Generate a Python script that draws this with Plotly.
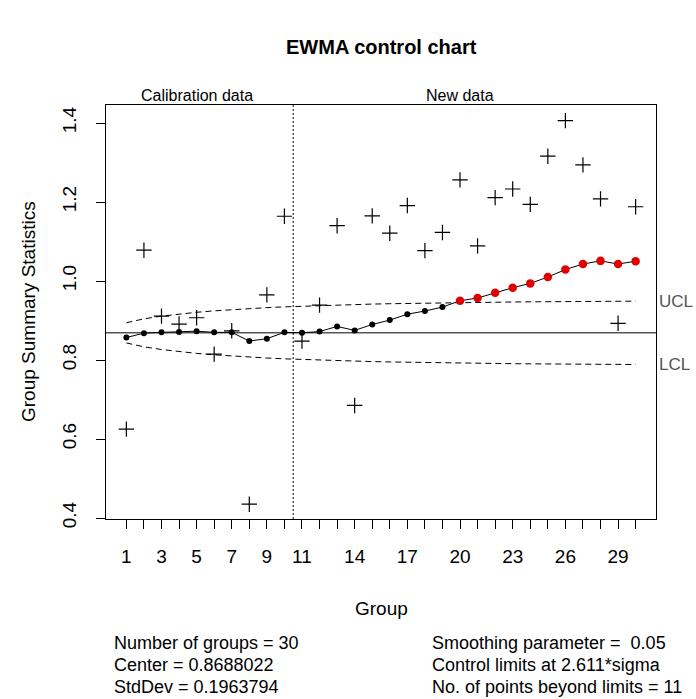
import plotly.graph_objects as go

# ---- data ----
groups = list(range(1, 31))
stats = [0.625, 1.078, 0.911, 0.891, 0.907, 0.815, 0.874, 0.435, 0.965, 1.164,
         0.848, 0.939, 1.140, 0.685, 1.165, 1.121, 1.191, 1.077, 1.123, 1.256,
         1.089, 1.211, 1.233, 1.194, 1.316, 1.406, 1.294, 1.208, 0.893, 1.188]
ewma = [0.857, 0.868, 0.870, 0.871, 0.873, 0.870, 0.870, 0.848, 0.854, 0.870,
        0.869, 0.872, 0.885, 0.875, 0.890, 0.901, 0.916, 0.924, 0.934, 0.950,
        0.957, 0.970, 0.983, 0.994, 1.010, 1.029, 1.043, 1.051, 1.043, 1.050]
ucl = [0.8944, 0.9042, 0.9111, 0.9164, 0.9208, 0.9245, 0.9276, 0.9302, 0.9326, 0.9346,
       0.9363, 0.9379, 0.9393, 0.9405, 0.9416, 0.9425, 0.9434, 0.9442, 0.9448, 0.9455,
       0.9460, 0.9465, 0.9469, 0.9473, 0.9477, 0.9480, 0.9483, 0.9486, 0.9488, 0.9490]
lcl = [0.8432, 0.8334, 0.8265, 0.8212, 0.8168, 0.8131, 0.8100, 0.8074, 0.8051, 0.8030,
       0.8013, 0.7997, 0.7983, 0.7971, 0.7960, 0.7951, 0.7942, 0.7934, 0.7928, 0.7922,
       0.7916, 0.7911, 0.7907, 0.7903, 0.7899, 0.7896, 0.7893, 0.7891, 0.7888, 0.7886]
center = 0.8688022
calib_end = 10.5
x_label_groups = [1, 3, 5, 7, 9, 11, 14, 17, 20, 23, 26, 29]
y_ticks = [0.4, 0.6, 0.8, 1.0, 1.2, 1.4]
y_tick_labels = ["0.4", "0.6", "0.8", "1.0", "1.2", "1.4"]
stats_left = ["Number of groups = 30", "Center = 0.8688022", "StdDev = 0.1963794"]
stats_right = ["Smoothing parameter =  0.05", "Control limits at 2.611*sigma",
               "No. of points beyond limits = 11"]

FONT = "Liberation Sans, Arial, sans-serif"

out_x = [g for g, e, u, l in zip(groups, ewma, ucl, lcl) if e > u or e < l]
out_y = [e for g, e, u, l in zip(groups, ewma, ucl, lcl) if e > u or e < l]
in_x = [g for g, e, u, l in zip(groups, ewma, ucl, lcl) if not (e > u or e < l)]
in_y = [e for g, e, u, l in zip(groups, ewma, ucl, lcl) if not (e > u or e < l)]

fig = go.Figure()
fig.add_trace(go.Scatter(x=groups, y=ucl, mode="lines",
                         line=dict(color="black", width=1, dash="6px,4px")))
fig.add_trace(go.Scatter(x=groups, y=lcl, mode="lines",
                         line=dict(color="black", width=1, dash="6px,4px")))
fig.add_trace(go.Scatter(x=groups, y=stats, mode="markers",
                         marker=dict(symbol="cross-thin", size=11, color="black",
                                     line=dict(color="black", width=1.2))))
fig.add_trace(go.Scatter(x=groups, y=ewma, mode="lines",
                         line=dict(color="black", width=1)))
fig.add_trace(go.Scatter(x=in_x, y=in_y, mode="markers",
                         marker=dict(symbol="circle", size=6, color="black")))
fig.add_trace(go.Scatter(x=out_x, y=out_y, mode="markers",
                         marker=dict(symbol="circle", size=8.5, color="#e00000")))

fig.add_shape(type="line", xref="paper", x0=0, x1=1, yref="y", y0=center, y1=center,
              line=dict(color="black", width=1))
fig.add_shape(type="line", xref="x", x0=calib_end, x1=calib_end, yref="paper", y0=0, y1=1,
              line=dict(color="black", width=1, dash="2px,2px"))

L, R, T, B = 106, 656, 105, 519
W, H = 696, 699


def px(xp):
    return (xp - L) / (R - L)


def py(yp):
    return (B - yp) / (B - T)


ann = []
ann.append(dict(text="<b>EWMA control chart</b>", x=px(381), y=py(47), font=dict(size=20)))
ann.append(dict(text="Calibration data", x=px(197), y=py(96), font=dict(size=16)))
ann.append(dict(text="New data", x=px(460), y=py(96), font=dict(size=16)))
ann.append(dict(text="Group", x=px(381), y=py(608), font=dict(size=19)))
ann.append(dict(text="Group Summary Statistics", x=px(28), y=py(312), textangle=-90,
                font=dict(size=19)))
for i, s in enumerate(stats_left):
    ann.append(dict(text=s, x=px(112), y=py(643 + 22 * i), xanchor="left", font=dict(size=18)))
for i, s in enumerate(stats_right):
    ann.append(dict(text=s, x=px(430), y=py(643 + 22 * i), xanchor="left", font=dict(size=18)))
for a in ann:
    a.setdefault("xanchor", "center")
    a.update(xref="paper", yref="paper", yanchor="middle", showarrow=False)
    a["font"].update(family=FONT, color="black")
ann.append(dict(text="UCL", xref="paper", x=1, xshift=1, xanchor="left", yref="y", y=ucl[-1],
                yanchor="middle", showarrow=False, font=dict(family=FONT, size=17, color="#555555")))
ann.append(dict(text="LCL", xref="paper", x=1, xshift=1, xanchor="left", yref="y", y=lcl[-1],
                yanchor="middle", showarrow=False, font=dict(family=FONT, size=17, color="#555555")))

fig.update_layout(
    width=W, height=H, margin=dict(l=L, r=W - R, t=T, b=H - B, pad=0),
    paper_bgcolor="white", plot_bgcolor="white", showlegend=False,
    font=dict(family=FONT, color="black"),
    annotations=ann,
    xaxis=dict(range=[-0.16, 31.16], tickmode="array", tickvals=groups,
               ticktext=[str(g) if g in x_label_groups else "" for g in groups],
               ticks="outside", ticklen=9, tickwidth=1, tickcolor="black",
               showline=True, linecolor="black", linewidth=1, mirror=True,
               showgrid=False, zeroline=False, tickfont=dict(size=19, family=FONT, color="black"),
               ticklabelstandoff=11),
    yaxis=dict(range=[0.3975, 1.4456], tickmode="array", tickvals=y_ticks, ticktext=y_tick_labels,
               tickangle=-90, ticks="outside", ticklen=9, tickwidth=1, tickcolor="black",
               showline=True, linecolor="black", linewidth=1, mirror=True,
               showgrid=False, zeroline=False, tickfont=dict(size=19, family=FONT, color="black"),
               ticklabelstandoff=12),
)

fig.write_html("out.html", config={"displayModeBar": False})
